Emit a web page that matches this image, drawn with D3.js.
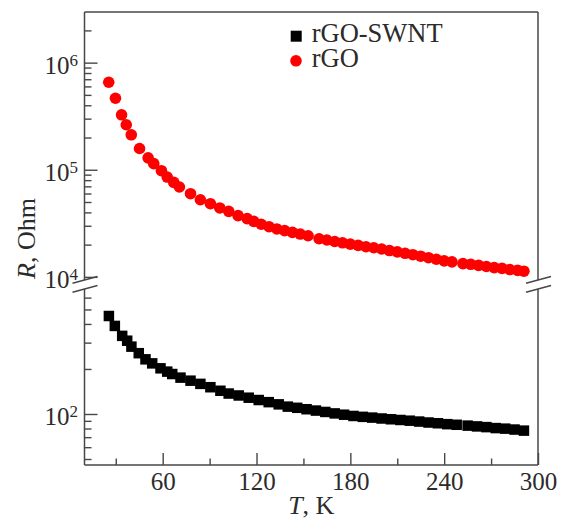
<!DOCTYPE html>
<html>
<head>
<meta charset="utf-8">
<script src="https://cdn.jsdelivr.net/npm/d3@7"></script>
<style>
  html, body { margin: 0; padding: 0; background: #fff; }
  svg { display: block; font-family: "Liberation Serif", "Times New Roman", serif; }
</style>
</head>
<body>
<svg id="chart" width="563" height="520"></svg>
<script>
// Temperature (K) and resistance (Ohm) of the two films
const rgoT = [25.5, 29.8, 33.7, 36.7, 39.9, 45.2, 50.7, 54.3, 59.2, 62.9, 67.1, 70.7, 77.8, 84.1,
  90.5, 96.5, 102.2, 108.2, 114, 118.2, 123, 128, 133, 138, 143, 148, 153, 160, 165, 170, 175,
  180, 185, 190, 195, 200, 205, 210, 215, 220, 225, 230, 235, 240, 245, 252, 257, 262, 267,
  272, 277, 282, 287, 291];
const rgoR = [656000, 465000, 326000, 263000, 212000, 158000, 129000, 114000, 98000, 85500,
  76200, 69000, 59800, 52500, 48200, 44000, 40900, 37300, 35000, 33000, 31000, 29400, 28000,
  27000, 26000, 25100, 24200, 22700, 22100, 21400, 20800, 20200, 19700, 19100, 18700, 18200,
  17600, 17100, 16600, 16100, 15600, 15100, 14600, 14100, 13800, 13300, 13100, 12800, 12500,
  12200, 12000, 11700, 11500, 11300];

const swntT = [25.6, 29.4, 34.1, 37.3, 40.0, 44.7, 49.0, 53.3, 58.6, 62.9, 66.1, 71.4, 77.8,
  84.1, 90.5, 96.9, 102.2, 108.6, 115, 121.4, 127.8, 134.2, 140, 146, 152, 158, 164, 170, 176,
  182, 188, 194, 200, 206, 212, 218, 224, 230, 236, 242, 248, 255, 261, 267, 273, 279, 285, 291];
const swntR = [452, 388, 333, 309, 282, 255, 232, 218, 202, 192, 185, 175, 167, 159, 151, 143,
  137, 133, 128.5, 124, 120, 116, 112, 110, 107.6, 105.4, 103.2, 100.9, 98.9, 97.0, 95.7, 94.6,
  93.3, 92.2, 91.2, 90.2, 89.0, 87.7, 86.7, 85.5, 84.7, 83.6, 82.6, 81.7, 80.5, 79.8, 78.7, 77.4];

// Axis ticks
const xMajor = [60, 120, 180, 240, 300];
const xMinor = [30, 90, 150, 210, 270];
const upperMajor = [1e4, 1e5, 1e6];
const upperMinor = [2e4, 3e4, 4e4, 5e4, 6e4, 7e4, 8e4, 9e4, 2e5, 3e5, 4e5, 5e5, 6e5, 7e5, 8e5, 9e5, 2e6];
const lowerMajor = [100];
const lowerMinor = [50, 60, 70, 80, 90, 200, 300, 400, 500, 600];

const seriesNames = ["rGO-SWNT", "rGO"];

// Layout
const plotLeft = 84.5, plotRight = 538, plotTop = 12, plotBottom = 465;
const breakUp = 280, breakLow = 289;
const lineColor = "#474747", textColor = "#2b2b2b";

const svg = d3.select("#chart");

const x = d3.scaleLinear().domain([10, 300]).range([plotLeft, plotRight]);
const yUpper = d3.scaleLog().domain([9350, 2.97e6]).range([breakUp, plotTop]);
const yLower = d3.scaleLog().domain([45.6, 685]).range([plotBottom, breakLow]);

// Frame with a break on both vertical sides
const frame = svg.append("g").attr("stroke", lineColor).attr("stroke-width", 1.5).attr("fill", "none");
frame.append("line").attr("x1", plotLeft).attr("x2", plotRight).attr("y1", plotTop).attr("y2", plotTop);
frame.append("line").attr("x1", plotLeft).attr("x2", plotRight).attr("y1", plotBottom).attr("y2", plotBottom);
[plotLeft, plotRight].forEach(xx => {
  frame.append("line").attr("x1", xx).attr("x2", xx).attr("y1", plotTop).attr("y2", breakUp);
  frame.append("line").attr("x1", xx).attr("x2", xx).attr("y1", breakLow).attr("y2", plotBottom);
  [breakUp, breakLow].forEach(yy => {
    frame.append("line")
      .attr("x1", xx - 12).attr("y1", yy + 3.3)
      .attr("x2", xx + 13).attr("y2", yy - 3.5)
      .attr("stroke-width", 1.4);
  });
});

function styleAxis(g) {
  g.select(".domain").remove();
  g.selectAll(".tick line").attr("stroke", lineColor).attr("stroke-width", 1.4);
  g.selectAll(".tick text").attr("fill", textColor).attr("font-size", 25)
    .attr("font-family", "Liberation Serif, Times New Roman, serif");
}

// X axis (ticks point into the plot)
svg.append("g").attr("transform", `translate(0,${plotBottom})`)
  .call(d3.axisBottom(x).tickValues(xMinor).tickSize(-6.5).tickFormat(""))
  .call(styleAxis);
svg.append("g").attr("transform", `translate(0,${plotBottom})`)
  .call(d3.axisBottom(x).tickValues(xMajor).tickSize(-12).tickFormat(d3.format("d")))
  .call(styleAxis)
  .call(g => g.selectAll(".tick text").attr("y", 25).attr("dy", null));

// Y axes: upper and lower log sections
function powerLabels(g) {
  g.selectAll(".tick text").each(function(d) {
    const t = d3.select(this);
    const e = Math.round(Math.log10(d));
    t.text(null).attr("dy", "0.44em");
    t.append("tspan").text("10");
    t.append("tspan").attr("dy", "-8.3").attr("font-size", 17).text(e);
  });
}
[[yUpper, upperMinor, upperMajor], [yLower, lowerMinor, lowerMajor]].forEach(([sc, minor, major]) => {
  svg.append("g").attr("transform", `translate(${plotLeft},0)`)
    .call(d3.axisLeft(sc).tickValues(minor).tickSize(-7).tickFormat(""))
    .call(styleAxis);
  svg.append("g").attr("transform", `translate(${plotLeft},0)`)
    .call(d3.axisLeft(sc).tickValues(major).tickSize(-13).tickPadding(6.5))
    .call(styleAxis)
    .call(powerLabels);
});

// Axis titles
const yt = svg.append("text")
  .attr("transform", `translate(35,${(plotTop + plotBottom) / 2}) rotate(-90)`)
  .attr("text-anchor", "middle").attr("font-size", 26).attr("fill", textColor);
yt.append("tspan").attr("font-style", "italic").text("R");
yt.append("tspan").text(", Ohm");

const xt = svg.append("text")
  .attr("x", (plotLeft + plotRight) / 2).attr("y", 514)
  .attr("text-anchor", "middle").attr("font-size", 26).attr("fill", textColor);
xt.append("tspan").attr("font-style", "italic").text("T");
xt.append("tspan").text(", K");

// Data marks
const sq = 10.5;
svg.append("g").selectAll("rect")
  .data(d3.zip(swntT, swntR))
  .join("rect")
  .attr("x", d => x(d[0]) - sq / 2)
  .attr("y", d => yLower(d[1]) - sq / 2)
  .attr("width", sq).attr("height", sq)
  .attr("fill", "#000");

svg.append("g").selectAll("circle")
  .data(d3.zip(rgoT, rgoR))
  .join("circle")
  .attr("cx", d => x(d[0]))
  .attr("cy", d => yUpper(d[1]))
  .attr("r", 5.8)
  .attr("fill", "#ff0000");

// Legend
const legend = svg.append("g").attr("font-size", 26.5).attr("fill", textColor);
legend.append("rect").attr("x", 296.2 - 5.5).attr("y", 36.2 - 5.5).attr("width", 11).attr("height", 11).attr("fill", "#000");
legend.append("circle").attr("cx", 296).attr("cy", 60.8).attr("r", 5.8).attr("fill", "#ff0000");
legend.append("text").attr("x", 311.7).attr("y", 41.7).text(seriesNames[0]);
legend.append("text").attr("x", 311.7).attr("y", 66.7).text(seriesNames[1]);
</script>
</body>
</html>
